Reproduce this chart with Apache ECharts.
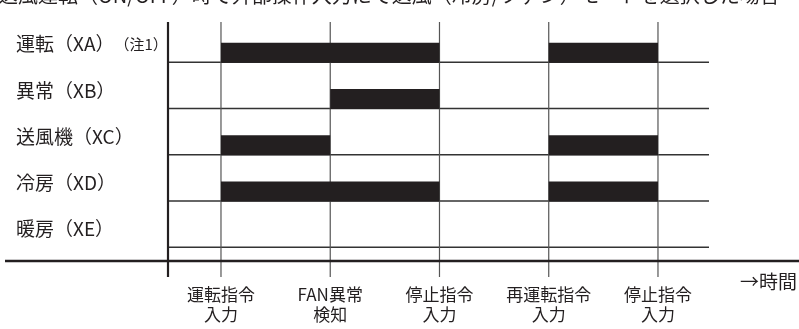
<!DOCTYPE html>
<html><head><meta charset="utf-8">
<script src="https://cdn.jsdelivr.net/npm/echarts@6/dist/echarts.min.js"></script>
<style>html,body{margin:0;padding:0;background:#fff}#c{width:799px;height:329px}</style>
</head><body><div id="c"></div>
<script>
// ---- data ----
var rowLabels = ['運転（XA）', '異常（XB）', '送風機（XC）', '冷房（XD）', '暖房（XE）'];
var rowNote = ['（注1）', '', '', '', ''];
var eventTimes = [1, 2, 3, 4, 5];
var eventLabels = ['運転指令\n入力', 'FAN異常\n検知', '停止指令\n入力', '再運転指令\n入力', '停止指令\n入力'];
var barsXA = [[1, 3], [4, 5]];
var barsXB = [[2, 3]];
var barsXC = [[1, 2], [4, 5]];
var barsXD = [[1, 3], [4, 5]];
var barsXE = [];
var rowLines = [1, 2, 3, 4, 5];
var axisTitle = '→時間';
var headerText = '送風運転（ON/OFF）時で外部操作入力にて送風（冷房/ファン）モードを選択した場合';

// ---- build ----
var XMIN = 0.515, XMAX = 5.467, YMAX = 5.297;
var INK = '#231f20';
var FONT = '"Noto Sans CJK JP", "Noto Sans", sans-serif';
var barData = [];
[barsXA, barsXB, barsXC, barsXD, barsXE].forEach(function (arr, r) {
  arr.forEach(function (b) { barData.push([b[0], b[1], r]); });
});

var chart = echarts.init(document.getElementById('c'), null, {renderer: 'canvas'});
chart.setOption({
  animation: false,
  grid: {left: 168, right: 90, top: 16, bottom: 68},
  xAxis: {type: 'value', min: XMIN, max: XMAX, show: false},
  yAxis: {type: 'value', min: 0, max: YMAX, inverse: true, show: false},
  graphic: [
    {type: 'line', shape: {x1: 5, y1: 261, x2: 799, y2: 261}, style: {stroke: INK, lineWidth: 2.5}, z: 10},
    {type: 'text', x: 797, y: 282, style: {text: axisTitle, fill: INK, font: '19px ' + FONT, align: 'right', verticalAlign: 'middle'}},
    {type: 'text', x: -2, y: -5, style: {text: headerText, fill: INK, font: '20px ' + FONT, align: 'left', verticalAlign: 'middle'}}
  ],
  series: [
    {
      type: 'custom', clip: false, silent: true,
      data: rowLines,
      renderItem: function (params, api) {
        var y = api.value(0);
        var p1 = api.coord([XMIN, y]), p2 = api.coord([XMAX, y]);
        return {type: 'line', shape: {x1: p1[0], y1: p1[1], x2: p2[0], y2: p2[1]}, style: {stroke: '#333', lineWidth: 1.3}};
      }
    },
    {
      type: 'custom', clip: false, silent: true,
      data: eventTimes.map(function (t, i) { return [t, i]; }),
      renderItem: function (params, api) {
        var t = api.value(0), i = api.value(1);
        var p1 = api.coord([t, 0.13]), p2 = api.coord([t, YMAX]);
        return {type: 'group', children: [
          {type: 'line', shape: {x1: p1[0], y1: p1[1], x2: p2[0], y2: p2[1] + 16}, style: {stroke: '#555', lineWidth: 1.2}},
          {type: 'text', x: p1[0], y: p2[1] + 44, style: {text: eventLabels[i], fill: INK, font: '17px ' + FONT, lineHeight: 20, align: 'center', verticalAlign: 'middle'}}
        ]};
      }
    },
    {
      type: 'custom', clip: false, silent: true,
      data: [[XMIN]],
      renderItem: function (params, api) {
        var p1 = api.coord([XMIN, 0.13]), p2 = api.coord([XMIN, YMAX]);
        return {type: 'line', shape: {x1: p1[0], y1: p1[1], x2: p2[0], y2: p2[1] + 16}, style: {stroke: INK, lineWidth: 2.2}, z2: 5};
      }
    },
    {
      type: 'custom', clip: false, silent: true,
      data: barData,
      renderItem: function (params, api) {
        var s = api.value(0), e = api.value(1), r = api.value(2);
        var a = api.coord([s, r + 1]), b = api.coord([e, r + 1]);
        return {type: 'rect', shape: {x: a[0], y: a[1] - 19.5, width: b[0] - a[0], height: 20}, style: {fill: INK}};
      }
    },
    {
      type: 'custom', clip: false, silent: true,
      data: rowLabels.map(function (l, i) { return [i]; }),
      renderItem: function (params, api) {
        var i = api.value(0);
        var p = api.coord([XMIN, i + 1]);
        return {type: 'text', x: 16, y: p[1] - 18, style: {
          text: '{m|' + rowLabels[i] + '}' + (rowNote[i] ? '{n|' + rowNote[i] + '}' : ''),
          rich: {m: {fontSize: 19, fontFamily: FONT, fill: INK, color: INK}, n: {fontSize: 15, fontFamily: FONT, fill: INK, color: INK}},
          fill: INK, align: 'left', verticalAlign: 'middle'}};
      }
    }
  ]
});
</script></body></html>
